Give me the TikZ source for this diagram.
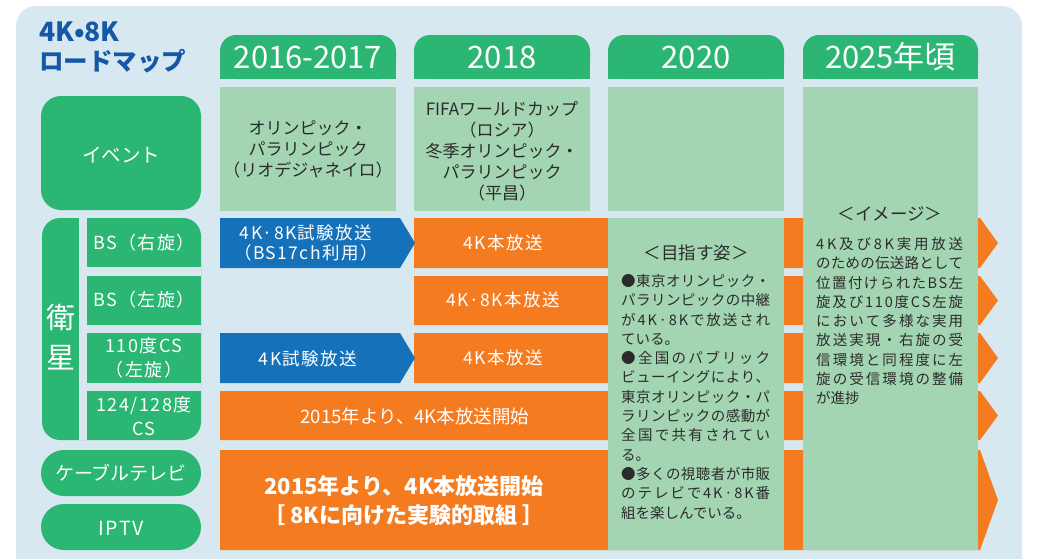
\documentclass[tikz,border=0pt]{standalone}
\usepackage{fontspec}
\setmainfont{Noto Sans CJK JP}
\newfontfamily\lsfont[LetterSpace=8]{Noto Sans CJK JP}
\definecolor{bgblue}{HTML}{D8E8F0}
\definecolor{dgreen}{HTML}{2BB673}
\definecolor{lgreen}{HTML}{A3D5B3}
\definecolor{orng}{HTML}{F47B20}
\definecolor{bblue}{HTML}{1571B9}
\definecolor{tblue}{HTML}{1558A8}
\definecolor{tgray}{HTML}{2B2B2B}
\newlength{\jw}
\def\sprend{\sprend}
\def\sprfirst#1{#1\sprrest}
\def\sprrest#1{\ifx#1\sprend\else\hskip0pt plus 1fil\relax#1\expandafter\sprrest\fi}
\newcommand{\jl}[1]{\makebox[\jw][s]{\sprfirst#1\sprend}}
\begin{document}
\begin{tikzpicture}[x=1pt,y=-1pt,
  wlab/.style={text=white, align=center, inner sep=0pt, font=\lsfont\fontsize{18}{24}\selectfont},
  bar/.style={text=white, align=center, inner sep=0pt, font=\lsfont\fontsize{17.5}{20}\selectfont},
  evt/.style={text=tgray, align=center, inner sep=0pt, font=\fontsize{17}{21}\selectfont},
  tabtxt/.style={text=white, inner sep=0pt, font=\fontsize{31}{32}\selectfont},
  para/.style={text=tgray, align=left, inner sep=0pt, anchor=north west, font=\fontsize{14.5}{19.3}\selectfont},
  head/.style={text=tgray, inner sep=0pt, font=\fontsize{17.5}{20}\selectfont}]
\useasboundingbox (0,0) rectangle (1045,558);
\clip (0,0) rectangle (1045,558);
% panel
\fill[bgblue, rounded corners=20pt] (16,6) rectangle (1022,600);
% title
\node[text=tblue, anchor=north west, inner sep=0pt, align=left, font=\fontsize{24.5}{29}\selectfont\bfseries] (title) at (39,22) {{\fontsize{26.5}{29}\selectfont 4K•8K}\\ロードマップ};
% tabs
\foreach \xa/\xb/\lab [count=\i] in {220/396/2016-2017, 414/590/2018, 608/784/2020, 803/978/2025年頃}{
  \fill[dgreen, rounded corners=16pt] (\xa,35) rectangle (\xb,79);
  \fill[dgreen] (\xa,60) rectangle (\xb,79);
  \node[tabtxt] (tab\i) at ({(\xa+\xb)/2},57) {\lab};
}
% event cells
\fill[lgreen] (220,87) rectangle (396,211);
\fill[lgreen] (414,87) rectangle (590,211);
\fill[lgreen] (608,87) rectangle (784,211);
% left labels
\fill[dgreen, rounded corners=20pt] (41,96) rectangle (201,210);
\node[wlab, font=\fontsize{19.5}{24}\selectfont] (ev) at (121,155) {イベント};
\fill[dgreen, rounded corners=18pt] (42,218) rectangle (201,440);
\fill[bgblue] (79,218) rectangle (87,440);
\fill[bgblue] (87,267) rectangle (201,276);
\fill[bgblue] (87,325) rectangle (201,333);
\fill[bgblue] (87,383) rectangle (201,391);
\node[wlab, font=\fontsize{29}{40}\selectfont] (eisei) at (61,337) {衛\\星};
\node[wlab] (bsr) at (144,243) {BS（右旋）};
\node[wlab] (bsl) at (144,300) {BS（左旋）};
\node[wlab] (cs110) at (144,358) {110度CS\\（左旋）};
\node[wlab] (cs124) at (144,416) {124/128度\\CS};
\fill[dgreen, rounded corners=23pt] (41,450) rectangle (201,496);
\node[wlab, font=\fontsize{19}{24}\selectfont] (catv) at (121,473) {ケーブルテレビ};
\fill[dgreen, rounded corners=23pt] (41,504) rectangle (201,550);
\node[wlab, font=\lsfont\fontsize{19.5}{24}\selectfont] (iptv) at (121,528) {IPTV};
% orange rows
\fill[orng] (414,218) -- (980,218) -- (998,243) -- (980,268) -- (414,268) -- cycle;
\fill[orng] (414,276) -- (980,276) -- (998,300.5) -- (980,325) -- (414,325) -- cycle;
\fill[orng] (414,333) -- (980,333) -- (998,358) -- (980,383) -- (414,383) -- cycle;
\fill[orng] (220,391) -- (980,391) -- (998,415.5) -- (980,440) -- (220,440) -- cycle;
\fill[orng] (220,450) -- (980,450) -- (998,500) -- (980,550) -- (220,550) -- cycle;
% blue arrows
\fill[bblue] (220,218) -- (400,218) -- (415,243) -- (400,268) -- (220,268) -- cycle;
\fill[bblue] (220,333) -- (400,333) -- (415,358) -- (400,383) -- (220,383) -- cycle;
\node[bar] (b1) at (306,243) {4K·8K試験放送\\（BS17ch利用）};
\node[bar] (b3) at (308,359) {4K試験放送};
\node[bar] (o1) at (503,243) {4K本放送};
\node[bar] (o2) at (503,300) {4K·8K本放送};
\node[bar] (o3) at (503,358) {4K本放送};
\node[bar, font=\fontsize{18.5}{20}\selectfont] (o4) at (415,416) {2015年より、4K本放送開始};
\node[bar, font=\fontsize{22}{29}\selectfont\bfseries] (o5) at (404,501) {2015年より、4K本放送開始\\［ 8Kに向けた実験的取組 ］};
% green columns
\fill[lgreen] (608,218) rectangle (784,550);
\fill[lgreen] (803,87) rectangle (978,550);
% event texts
\node[evt] (e1) at (308,149) {オリンピック・\\パラリンピック\\（リオデジャネイロ）};
\node[evt] (e2) at (502,151) {FIFAワールドカップ\\（ロシア）\\冬季オリンピック・\\パラリンピック\\（平昌）};
% 2020 column
\node[head] (h20) at (696,253) {＜目指す姿＞};
\setlength{\jw}{149pt}
\node[para] (p20) at (621,274) {\jl{●東京オリンピック・}\\
\jl{パラリンピックの中継}\\
\jl{が4K·8Kで放送され}\\
ている。\\
\jl{●全国のパブリック}\\
\jl{ビューイングにより、}\\
\jl{東京オリンピック・パ}\\
\jl{ラリンピックの感動が}\\
\jl{全国で共有されてい}\\
る。\\
\jl{●多くの視聴者が市販}\\
\jl{のテレビで4K·8K番}\\
組を楽しんでいる。};
% 2025 column
\node[head] (h25) at (890,214) {＜イメージ＞};
\setlength{\jw}{147pt}
\node[para] (p25) at (816,237) {\jl{4K及び8K実用放送}\\
\jl{のための伝送路として}\\
\jl{位置付けられたBS左}\\
\jl{旋及び110度CS左旋}\\
\jl{において多様な実用}\\
\jl{放送実現・右旋の受}\\
\jl{信環境と同程度に左}\\
\jl{旋の受信環境の整備}\\
が進捗};
\end{tikzpicture}
\end{document}
